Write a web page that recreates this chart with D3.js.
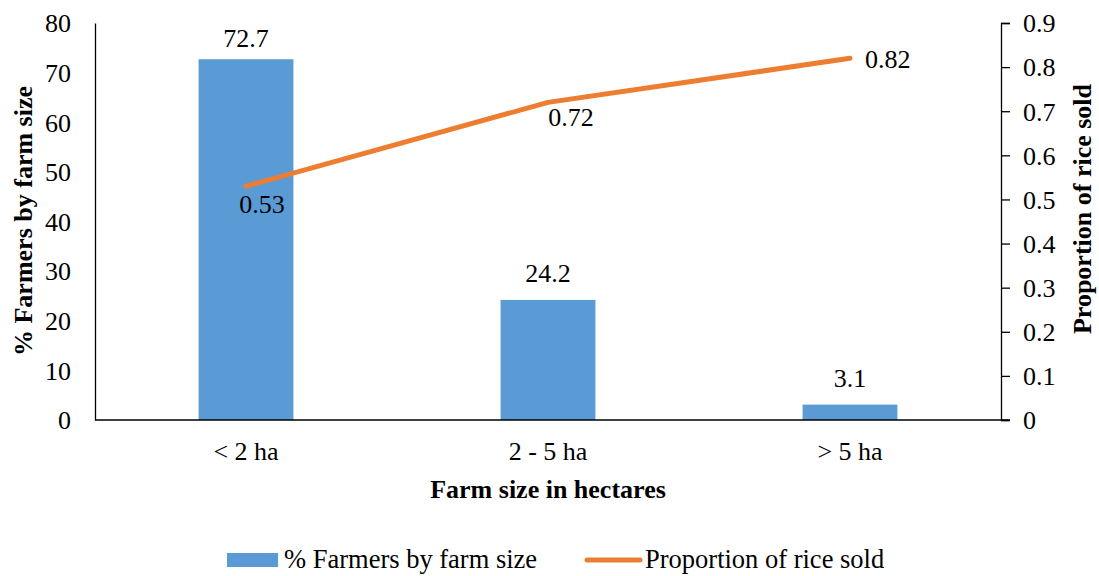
<!DOCTYPE html>
<html>
<head>
<meta charset="utf-8">
<script src="https://cdn.jsdelivr.net/npm/d3@7"></script>
</head>
<body style="margin:0">
<svg id="chart" width="1099" height="576" font-family="Liberation Serif"></svg>
<script>
// Farm size categories and the two series plotted against them
const categories = ["< 2 ha", "2 - 5 ha", "> 5 ha"];
const farmerShare = [72.7, 24.2, 3.1];          // % farmers by farm size (left axis)
const riceSoldShare = [0.53, 0.72, 0.82];       // proportion of rice sold (right axis)
const leftTicks = [0, 10, 20, 30, 40, 50, 60, 70, 80];
const rightTicks = [0, 0.1, 0.2, 0.3, 0.4, 0.5, 0.6, 0.7, 0.8, 0.9];

const barColor = "#5B9BD5";
const lineColor = "#ED7D31";
const FONT = "Liberation Serif";
const LABEL_SIZE = 26;
const TITLE_SIZE = 26;

const svg = d3.select("#chart");
const margin = { left: 95, right: 1001, top: 23, bottom: 420 };

const x = d3.scaleBand()
  .domain(categories)
  .range([margin.left, margin.right])
  .paddingInner(0.686)
  .paddingOuter(0.343);

const yLeft = d3.scaleLinear().domain([0, 80]).range([margin.bottom, margin.top]);
const yRight = d3.scaleLinear().domain([0, 0.9]).range([margin.bottom, margin.top]);

// Bars
svg.append("g").selectAll("rect")
  .data(farmerShare)
  .join("rect")
  .attr("x", (d, i) => x(categories[i]))
  .attr("y", d => yLeft(d))
  .attr("width", x.bandwidth())
  .attr("height", d => yLeft(0) - yLeft(d))
  .attr("fill", barColor);

// Bar value labels (kept inside the plot area at the top)
svg.append("g").selectAll("text")
  .data(farmerShare)
  .join("text")
  .attr("font-family", FONT)
  .attr("x", (d, i) => x(categories[i]) + x.bandwidth() / 2)
  .attr("y", d => Math.max(yLeft(d) - 17.5, margin.top + 24))
  .attr("text-anchor", "middle")
  .attr("font-size", LABEL_SIZE)
  .text(d => d.toFixed(1));

// Left axis: line only, no tick marks
const leftAxis = svg.append("g")
  .attr("transform", `translate(${margin.left},0)`)
  .call(d3.axisLeft(yLeft).tickValues(leftTicks).tickSize(0).tickPadding(24).tickFormat(d3.format("d")));
leftAxis.attr("font-family", FONT).attr("font-size", LABEL_SIZE);
leftAxis.select(".domain").attr("stroke", "#000").attr("stroke-width", 1.3);
leftAxis.selectAll("text").attr("fill", "#000").attr("dy", "0.34em");

// Right axis with outward ticks
const rightAxis = svg.append("g")
  .attr("transform", `translate(${margin.right},0)`)
  .call(d3.axisRight(yRight).tickValues(rightTicks).tickSizeInner(9).tickSizeOuter(9).tickPadding(13)
    .tickFormat(d => d === 0 ? "0" : d3.format(".1f")(d)));
rightAxis.attr("font-family", FONT).attr("font-size", LABEL_SIZE);
rightAxis.select(".domain").attr("stroke", "#000").attr("stroke-width", 1.3);
rightAxis.selectAll(".tick line").attr("stroke", "#000").attr("stroke-width", 1.3);
rightAxis.selectAll("text").attr("fill", "#000").attr("dy", "0.34em");

// Baseline across the plot
svg.append("line")
  .attr("x1", margin.left).attr("x2", margin.right + 9)
  .attr("y1", yLeft(0)).attr("y2", yLeft(0))
  .attr("stroke", "#000").attr("stroke-width", 1.3);

// Category labels
svg.append("g").selectAll("text")
  .data(categories)
  .join("text")
  .attr("font-family", FONT)
  .attr("x", d => x(d) + x.bandwidth() / 2)
  .attr("y", 460)
  .attr("text-anchor", "middle")
  .attr("font-size", LABEL_SIZE)
  .text(d => d);

// Line series
const cx = (i) => x(categories[i]) + x.bandwidth() / 2;
const line = d3.line()
  .x((d, i) => cx(i))
  .y(d => yRight(d));
svg.append("path")
  .datum(riceSoldShare)
  .attr("d", line)
  .attr("fill", "none")
  .attr("stroke", lineColor)
  .attr("stroke-width", 5)
  .attr("stroke-linecap", "round")
  .attr("stroke-linejoin", "round");

// Line value labels
const lineLabelOffsets = [
  { dx: 16, dy: 27, anchor: "middle" },
  { dx: 23, dy: 24, anchor: "middle" },
  { dx: 15, dy: 10, anchor: "start" }
];
svg.append("g").selectAll("text")
  .data(riceSoldShare)
  .join("text")
  .attr("font-family", FONT)
  .attr("x", (d, i) => cx(i) + lineLabelOffsets[i].dx)
  .attr("y", d => yRight(d))
  .attr("dy", (d, i) => lineLabelOffsets[i].dy)
  .attr("text-anchor", (d, i) => lineLabelOffsets[i].anchor)
  .attr("font-size", LABEL_SIZE)
  .text(d => d.toFixed(2));

// Text helper for titles and legend entries
function label(x0, y0, str, size, bold, rotate) {
  const t = svg.append("text")
    .attr("font-family", FONT)
    .attr("font-size", size)
    .text(str);
  if (bold) t.attr("font-weight", "bold");
  if (rotate) {
    t.attr("transform", `translate(${x0},${y0}) rotate(-90)`).attr("text-anchor", "middle");
  } else {
    t.attr("x", x0).attr("y", y0);
  }
  return t;
}

// Axis titles
label(32, 221, "% Farmers by farm size", TITLE_SIZE, true, true);
label(1091, 209, "Proportion of rice sold", TITLE_SIZE, true, true);
label(548, 498, "Farm size in hectares", TITLE_SIZE, true, false).attr("text-anchor", "middle");

// Legend
svg.append("rect")
  .attr("x", 227).attr("y", 553).attr("width", 51).attr("height", 14)
  .attr("fill", barColor);
label(284, 568, "% Farmers by farm size", 26.5, false, false);
svg.append("line")
  .attr("x1", 587).attr("x2", 640).attr("y1", 560).attr("y2", 560)
  .attr("stroke", lineColor).attr("stroke-width", 5).attr("stroke-linecap", "round");
label(645, 568, "Proportion of rice sold", 26.5, false, false);
</script>
</body>
</html>
